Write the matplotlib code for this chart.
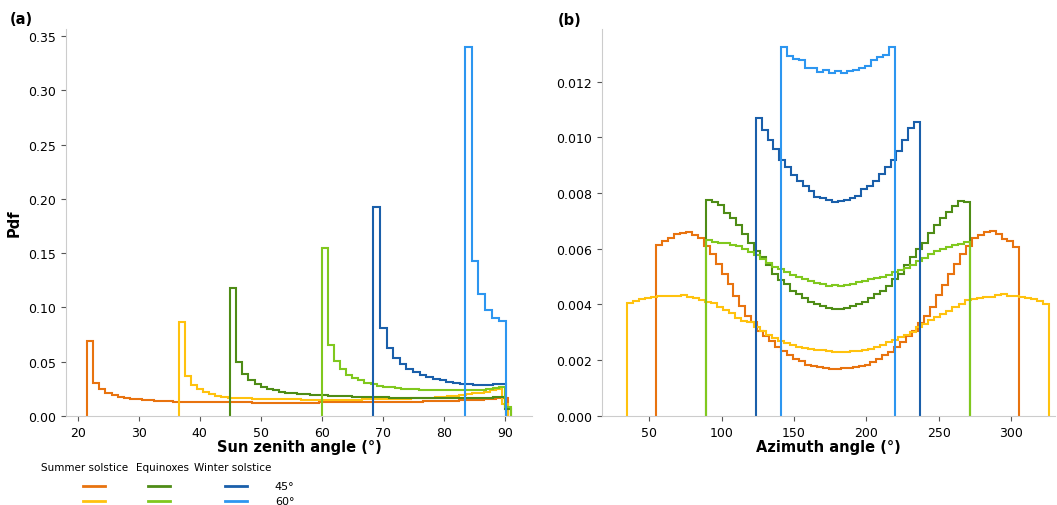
import matplotlib
import numpy as np

matplotlib.use("Agg")
import matplotlib.pyplot as plt
from matplotlib.lines import Line2D

# colours: (season, latitude)
ORANGE = "#E8730F"
YELLOW = "#FFC20E"
DGREEN = "#4E8C16"
LGREEN = "#80C81E"
DBLUE = "#1A5FAA"
LBLUE = "#2D96F0"

# ---- panel (a): sun zenith angle pdf, (first bin edge, bin width, values)
zen_summer45_start, zen_summer45_width = 21.56, 1.0
zen_summer45 = [0.069, 0.030, 0.025, 0.021, 0.019, 0.0175, 0.0165, 0.0158, 0.0152, 0.0147,
                0.0143, 0.0140, 0.0137, 0.0135, 0.0133, 0.0131, 0.0130, 0.0129, 0.0128, 0.0127,
                0.0126, 0.0126, 0.0125, 0.0125, 0.0124, 0.0124, 0.0124, 0.0123, 0.0123, 0.0123,
                0.0123, 0.0123, 0.0123, 0.0123, 0.0123, 0.0123, 0.0123, 0.0123, 0.0124, 0.0124,
                0.0124, 0.0125, 0.0125, 0.0125, 0.0126, 0.0126, 0.0127, 0.0127, 0.0128, 0.0129,
                0.0129, 0.0130, 0.0131, 0.0132, 0.0133, 0.0134, 0.0135, 0.0136, 0.0138, 0.0139,
                0.0141, 0.0143, 0.0145, 0.0148, 0.0151, 0.0155, 0.0160, 0.0166, 0.0170]

zen_summer60_start, zen_summer60_width = 36.56, 1.0
zen_summer60 = [0.0867, 0.0365, 0.0288, 0.0250, 0.0220, 0.0198, 0.0183, 0.0175, 0.0170, 0.0166,
                0.0163, 0.0161, 0.0159, 0.0157, 0.0156, 0.0155, 0.0154, 0.0153, 0.0152, 0.0152,
                0.0151, 0.0151, 0.0150, 0.0150, 0.0150, 0.0150, 0.0150, 0.0150, 0.0151, 0.0151,
                0.0152, 0.0152, 0.0153, 0.0154, 0.0155, 0.0156, 0.0157, 0.0159, 0.0161, 0.0163,
                0.0165, 0.0168, 0.0171, 0.0175, 0.0180, 0.0186, 0.0193, 0.0200, 0.0208, 0.0215,
                0.0222, 0.0235, 0.0250, 0.0110]

zen_equi45_start, zen_equi45_width = 45.0, 1.0
zen_equi45 = [0.1176, 0.0497, 0.0389, 0.0333, 0.0296, 0.0269, 0.0250, 0.0235, 0.0222, 0.0215,
              0.0208, 0.0203, 0.0199, 0.0195, 0.0192, 0.0189, 0.0186, 0.0184, 0.0182, 0.0180,
              0.0178, 0.0176, 0.0175, 0.0173, 0.0172, 0.0171, 0.0170, 0.0169, 0.0168, 0.0167,
              0.0166, 0.0165, 0.0165, 0.0164, 0.0164, 0.0164, 0.0164, 0.0164, 0.0165, 0.0165,
              0.0166, 0.0168, 0.0170, 0.0173, 0.0178, 0.0065]

zen_equi60_start, zen_equi60_width = 60.0, 1.0
zen_equi60 = [0.1546, 0.0650, 0.0506, 0.0429, 0.0380, 0.0349, 0.0327, 0.0308, 0.0292, 0.0280,
              0.0270, 0.0263, 0.0257, 0.0252, 0.0248, 0.0245, 0.0242, 0.0240, 0.0238, 0.0237,
              0.0236, 0.0235, 0.0235, 0.0235, 0.0236, 0.0238, 0.0241, 0.0246, 0.0255, 0.0268,
              0.0080]

zen_winter45_start, zen_winter45_width = 68.44, 1.09
zen_winter45 = [0.1926, 0.0812, 0.0630, 0.0531, 0.0479, 0.0435, 0.0404, 0.0380, 0.0358, 0.0343,
                0.0327, 0.0315, 0.0306, 0.0299, 0.0293, 0.0287, 0.0284, 0.0284, 0.0290, 0.0296]

zen_winter60_start, zen_winter60_width = 83.44, 1.12
zen_winter60 = [0.3398, 0.1429, 0.1127, 0.0975, 0.0904, 0.0873]

# ---- panel (b): azimuth angle pdf
az_summer45_start, az_summer45_width = 54.8, 4.11
az_summer45 = [0.00612, 0.00628, 0.00637, 0.00652, 0.00658, 0.00661, 0.00649, 0.00637, 0.00610, 0.00580,
               0.00544, 0.00508, 0.00472, 0.00432, 0.00394, 0.00358, 0.00337, 0.00304, 0.00286, 0.00268,
               0.00246, 0.00232, 0.00217, 0.00205, 0.00196, 0.00184, 0.00178, 0.00174, 0.00172, 0.00170,
               0.00168,
               0.00171, 0.00172, 0.00175, 0.00178, 0.00183, 0.00195, 0.00204, 0.00218, 0.00230, 0.00247,
               0.00266, 0.00287, 0.00305, 0.00335, 0.00360, 0.00392, 0.00434, 0.00470, 0.00510, 0.00545,
               0.00582, 0.00610, 0.00638, 0.00650, 0.00660, 0.00662, 0.00652, 0.00636, 0.00629, 0.00606]

az_summer60_start, az_summer60_width = 34.7, 4.16
az_summer60 = [0.00405, 0.00412, 0.00418, 0.00425, 0.00427, 0.00429, 0.00430, 0.00431, 0.00430, 0.00435,
               0.00428, 0.00423, 0.00416, 0.00410, 0.00405, 0.00392, 0.00380, 0.00370, 0.00352, 0.00342,
               0.00336, 0.00320, 0.00305, 0.00290, 0.00280, 0.00270, 0.00263, 0.00254, 0.00248, 0.00245,
               0.00240, 0.00238, 0.00236, 0.00232, 0.00229,
               0.00229, 0.00230, 0.00232, 0.00234, 0.00236, 0.00242, 0.00248, 0.00256, 0.00266, 0.00272,
               0.00282, 0.00292, 0.00303, 0.00318, 0.00330, 0.00345, 0.00356, 0.00365, 0.00378, 0.00390,
               0.00400, 0.00415, 0.00418, 0.00424, 0.00428, 0.00427, 0.00433, 0.00436, 0.00432, 0.00430,
               0.00427, 0.00422, 0.00418, 0.00413, 0.00402]

az_equi45_start, az_equi45_width = 89.0, 4.145
az_equi45 = [0.00774, 0.00769, 0.00757, 0.00727, 0.00712, 0.00685, 0.00652, 0.00619, 0.00592, 0.00570,
             0.00540, 0.00508, 0.00487, 0.00472, 0.00448, 0.00438, 0.00424, 0.00409, 0.00403, 0.00396,
             0.00388, 0.00385,
             0.00385, 0.00387, 0.00395, 0.00403, 0.00410, 0.00422, 0.00437, 0.00450, 0.00465, 0.00490,
             0.00508, 0.00540, 0.00570, 0.00598, 0.00620, 0.00655, 0.00685, 0.00710, 0.00732, 0.00755,
             0.00770, 0.00768]

az_equi60_start, az_equi60_width = 89.0, 4.145
az_equi60 = [0.00630, 0.00625, 0.00620, 0.00622, 0.00614, 0.00610, 0.00598, 0.00588, 0.00576, 0.00565,
             0.00548, 0.00536, 0.00526, 0.00516, 0.00507, 0.00498, 0.00492, 0.00486, 0.00476, 0.00474,
             0.00465, 0.00470,
             0.00466, 0.00470, 0.00474, 0.00480, 0.00484, 0.00490, 0.00494, 0.00500, 0.00507, 0.00515,
             0.00522, 0.00532, 0.00540, 0.00557, 0.00568, 0.00580, 0.00592, 0.00600, 0.00606, 0.00612,
             0.00618, 0.00624]

az_winter45_start, az_winter45_width = 123.7, 4.04
az_winter45 = [0.01068, 0.01027, 0.00991, 0.00959, 0.00917, 0.00892, 0.00866, 0.00842, 0.00824, 0.00806,
               0.00786, 0.00782, 0.00774, 0.00768, 0.00770, 0.00776, 0.00782, 0.00788, 0.00816, 0.00824,
               0.00842, 0.00870, 0.00893, 0.00920, 0.00952, 0.00992, 0.01032, 0.01056]

az_winter60_start, az_winter60_width = 140.8, 4.15
az_winter60 = [0.01323, 0.01290, 0.01280, 0.01277, 0.01250, 0.01247, 0.01235, 0.01240, 0.01232, 0.01238,
               0.01229, 0.01238, 0.01242, 0.01248, 0.01256, 0.01277, 0.01289, 0.01296, 0.01323]

zen_series = [
    (zen_summer45_start, zen_summer45_width, zen_summer45, ORANGE),
    (zen_summer60_start, zen_summer60_width, zen_summer60, YELLOW),
    (zen_equi45_start, zen_equi45_width, zen_equi45, DGREEN),
    (zen_equi60_start, zen_equi60_width, zen_equi60, LGREEN),
    (zen_winter45_start, zen_winter45_width, zen_winter45, DBLUE),
    (zen_winter60_start, zen_winter60_width, zen_winter60, LBLUE),
]
az_series = [
    (az_summer45_start, az_summer45_width, az_summer45, ORANGE),
    (az_summer60_start, az_summer60_width, az_summer60, YELLOW),
    (az_equi45_start, az_equi45_width, az_equi45, DGREEN),
    (az_equi60_start, az_equi60_width, az_equi60, LGREEN),
    (az_winter45_start, az_winter45_width, az_winter45, DBLUE),
    (az_winter60_start, az_winter60_width, az_winter60, LBLUE),
]

seasons = ["Summer solstice", "Equinoxes", "Winter solstice"]
latitudes = ["45°", "60°"]
legend_colors = [[ORANGE, YELLOW], [DGREEN, LGREEN], [DBLUE, LBLUE]]


def draw_steps(ax, series):
    for start, width, vals, color in series:
        vals = np.asarray(vals)
        edges = start + width * np.arange(len(vals) + 1)
        ax.stairs(vals, edges, color=color, linewidth=1.5)


def style_axis(ax):
    for side in ("top", "right"):
        ax.spines[side].set_visible(False)
    for side in ("left", "bottom"):
        ax.spines[side].set_color("#cccccc")
    ax.tick_params(colors="#555555", labelcolor="black", labelsize=9, length=3.5)


fig = plt.figure(figsize=(10.57, 5.06), dpi=100)
ax_a = fig.add_axes([0.0624, 0.176, 0.441, 0.765])
ax_b = fig.add_axes([0.5695, 0.176, 0.4285, 0.765])

draw_steps(ax_a, zen_series)
ax_a.set_ylim(bottom=0)
ax_a.set_xticks([20, 30, 40, 50, 60, 70, 80, 90])
ax_a.set_yticks([0.0, 0.05, 0.10, 0.15, 0.20, 0.25, 0.30, 0.35])
ax_a.set_xlabel("Sun zenith angle (°)", fontsize=10.5, fontweight="bold", labelpad=0)
ax_a.set_ylabel("Pdf", fontsize=10.5, fontweight="bold", labelpad=5)
style_axis(ax_a)

draw_steps(ax_b, az_series)
ax_b.set_ylim(bottom=0)
ax_b.set_xlim(17.5, 330)
ax_b.set_xticks([50, 100, 150, 200, 250, 300])
ax_b.set_xlabel("Azimuth angle (°)", fontsize=10.5, fontweight="bold", labelpad=0)
style_axis(ax_b)

fig.text(0.009, 0.962, "(a)", fontsize=10.5, fontweight="bold", va="center")
fig.text(0.528, 0.960, "(b)", fontsize=10.5, fontweight="bold", va="center")

# custom legend table below panel (a)
header_x = [0.0804, 0.1533, 0.2204]
line_x = [(0.0785, 0.0993), (0.1400, 0.1608), (0.2129, 0.2337)]
row_y = [0.0375, 0.0079]
for season, hx, (x0, x1), colors in zip(seasons, header_x, line_x, legend_colors):
    fig.text(hx, 0.0751, season, fontsize=7.5, ha="center", va="center")
    for y, color in zip(row_y, colors):
        fig.add_artist(Line2D([x0, x1], [y, y], color=color, linewidth=2.0,
                              transform=fig.transFigure))
for y, lat in zip(row_y, latitudes):
    fig.text(0.260, y, lat, fontsize=8, ha="left", va="center")

fig.savefig("out.png", dpi=100)
